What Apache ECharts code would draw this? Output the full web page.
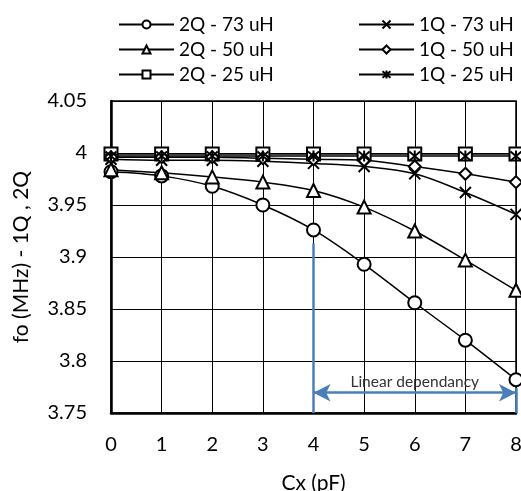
<!DOCTYPE html>
<html><head><meta charset="utf-8">
<script src="https://cdn.jsdelivr.net/npm/echarts@6/dist/echarts.min.js"></script>
<style>html,body{margin:0;padding:0;background:#fff}#c{width:521px;height:491px}</style>
</head><body><div id="c"></div>
<script>
const cx = [0, 1, 2, 3, 4, 5, 6, 7, 8];
const q2_73 = [3.982, 3.978, 3.968, 3.950, 3.926, 3.893, 3.856, 3.820, 3.782];
const q2_50 = [3.984, 3.981, 3.977, 3.972, 3.964, 3.948, 3.925, 3.897, 3.868];
const q2_25 = [3.999, 3.999, 3.999, 3.999, 3.999, 3.999, 3.999, 3.999, 3.999];
const q1_73 = [3.994, 3.993, 3.993, 3.992, 3.990, 3.987, 3.980, 3.962, 3.941];
const q1_50 = [3.996, 3.996, 3.996, 3.995, 3.994, 3.993, 3.987, 3.980, 3.972];
const q1_25 = [3.997, 3.997, 3.997, 3.997, 3.997, 3.997, 3.997, 3.997, 3.997];
const names = ['2Q - 73 uH', '2Q - 50 uH', '2Q - 25 uH', '1Q - 73 uH', '1Q - 50 uH', '1Q - 25 uH'];
const annotText = 'Linear dependancy';
const annotStartX = 4, annotEndX = 8, annotTopY = 3.913, arrowY = 3.7695, rightTickTopY = 3.774;

const FONT = 'Lato';
const X_SYM = 'path://M0,0L10,10M10,0L0,10';
const AST_SYM = 'path://M0,0L10,10M10,0L0,10M5,-1L5,11';
function pairs(arr){ return cx.map((x,i)=>[x, arr[i]]); }
function mk(name, data, symbol, size){
  return {
    name, type:'line', data: pairs(data), smooth:0.35,
    symbol, symbolSize:size, showSymbol:true,
    lineStyle:{color:'#000', width:1.5},
    itemStyle:{color:'#fff', borderColor:'#000', borderWidth:2},
    emphasis:{disabled:true}
  };
}
const series = [
  mk(names[0], q2_73, 'circle', 13),
  mk(names[1], q2_50, 'triangle', 13),
  mk(names[2], q2_25, 'rect', 13),
  mk(names[3], q1_73, X_SYM, 11),
  mk(names[4], q1_50, 'diamond', 12),
  mk(names[5], q1_25, AST_SYM, 11)
];
const blue = '#4A7EBB';
series.push({
  type:'line', data:[], silent:true,
  markLine:{
    silent:true, animation:false,
    lineStyle:{color:blue, width:2.5, type:'solid'},
    data:[
      [{coord:[annotStartX, annotTopY], symbol:'none'}, {coord:[annotStartX, 3.75], symbol:'none'}],
      [{coord:[annotEndX, rightTickTopY], symbol:'none'}, {coord:[annotEndX, 3.75], symbol:'none'}],
      [{coord:[annotStartX, arrowY], symbol:'arrow', symbolSize:[13,17]}, {coord:[annotEndX, arrowY], symbol:'arrow', symbolSize:[13,17],
        label:{show:true, position:'middle', formatter:annotText, color:'#333', fontFamily:FONT, fontSize:15.5, distance:3}}]
    ],
    label:{show:false}
  }
});
const chart = echarts.init(document.getElementById('c'), null, {renderer:'canvas'});
const legendCommon = {orient:'vertical', top:10, itemWidth:55, itemHeight:10, itemGap:6,
  textStyle:{fontSize:19, color:'#000', fontFamily:FONT}, selectedMode:false};
chart.setOption({
  animation:false,
  backgroundColor:'#fff',
  textStyle:{fontFamily:FONT},
  legend:[
    Object.assign({data:names.slice(0,3), left:113}, legendCommon),
    Object.assign({data:names.slice(3), left:353}, legendCommon)
  ],
  grid:{left:111, right:5, top:101, bottom:78, show:true, borderColor:'#000', borderWidth:1.5,
    containLabel:false, outerBoundsMode:'none'},
  xAxis:{
    type:'value', min:0, max:8, interval:1,
    name:'Cx (pF)', nameLocation:'middle', nameGap:60,
    nameTextStyle:{fontSize:21, color:'#000', fontFamily:FONT},
    axisLine:{show:true, onZero:false, lineStyle:{color:'#000', width:2.5}},
    axisTick:{show:false},
    axisLabel:{fontSize:20, color:'#000', margin:22, fontFamily:FONT},
    splitLine:{show:true, lineStyle:{color:'#000', width:1}}
  },
  yAxis:{
    type:'value', min:3.75, max:4.05, interval:0.05,
    name:'fo (MHz) - 1Q , 2Q', nameLocation:'middle', nameGap:79, nameRotate:90,
    nameTextStyle:{fontSize:21, color:'#000', fontFamily:FONT},
    axisLine:{show:true, onZero:false, lineStyle:{color:'#000', width:2.5}},
    axisTick:{show:false},
    axisLabel:{fontSize:20, color:'#000', margin:24, fontFamily:FONT,
      formatter:v=>String(parseFloat(v.toFixed(2)))},
    splitLine:{show:true, lineStyle:{color:'#000', width:1}}
  },
  series
});
</script></body></html>
